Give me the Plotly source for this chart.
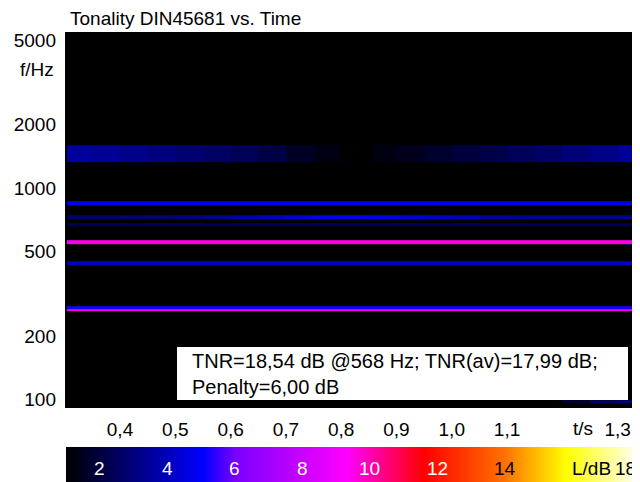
import plotly.graph_objects as go

# ---------------- data ----------------
# time column edges (s)
t_edges = [0.304, 0.35, 0.40, 0.45, 0.50, 0.55, 0.60, 0.65, 0.70, 0.75, 0.80,
           0.858, 0.90, 0.95, 1.00, 1.05, 1.10, 1.15, 1.20, 1.25, 1.30, 1.333]

# tonal components: lower / upper frequency of each stripe (Hz)
tone_lo_hz = [96.3, 261.2, 268.5, 430.9, 540.1, 657.0, 710.5, 825.7, 1325.0]
tone_hi_hz = [99.5, 268.5, 274.9, 450.1, 566.7, 683.4, 742.2, 866.3, 1594.0]

# level (dB) per time column for time-varying stripes
level_101 = [0, 0, 0, 0, 0, 0, 0, 0, 0, 0, 0, 0, 0, 0, 0, 0, 0, 0, 1.8, 2.6, 3.0]
level_745 = [2.7, 2.7, 2.75, 2.85, 3.0, 3.3, 3.7, 4.1, 4.5, 4.75, 4.8,
             4.7, 4.5, 4.2, 3.9, 3.6, 3.45, 3.35, 3.3, 3.3, 3.35]
level_band = [3.5, 3.35, 3.2, 3.0, 2.8, 2.6, 2.35, 2.1, 1.6, 1.3, 0.5,
              1.3, 1.45, 1.7, 1.95, 2.15, 2.4, 2.65, 2.9, 3.15, 3.4]
# constant levels for the other stripes
tone_levels = [level_101, 9.6, 5.2, 4.1, 9.5, 2.3, level_745, 4.7, level_band]

x_tick_vals = [0.4, 0.5, 0.6, 0.7, 0.8, 0.9, 1.0, 1.1, 1.3]
x_tick_text = ["0,4", "0,5", "0,6", "0,7", "0,8", "0,9", "1,0", "1,1", "1,3"]
y_tick_vals = [100, 200, 500, 1000, 2000, 5000]
y_tick_text = ["100", "200", "500", "1000", "2000", "5000"]

cb_range = [1, 18]
cb_tick_vals = [2, 4, 6, 8, 10, 12, 14]
cb_tick_text = ["2", "4", "6", "8", "10", "12", "14"]

info_text = "TNR=18,54 dB @568 Hz; TNR(av)=17,99 dB;<br>Penalty=6,00 dB"

# ---------------- build heatmap matrix ----------------
ncol = len(t_edges) - 1
f_bottom, f_top = 85.0, 6000.0
edges = [f_bottom]
z = []
for lo, hi, lev in zip(tone_lo_hz, tone_hi_hz, tone_levels):
    row = list(lev) if isinstance(lev, list) else [lev] * ncol
    if lo > edges[-1]:
        z.append([0] * ncol)
        edges.append(lo)
    z.append(row)
    edges.append(hi)
z.append([0] * ncol)
edges.append(f_top)

span = cb_range[1] - cb_range[0]
def frac(v):
    return (v - cb_range[0]) / span

colorscale = [
    [0.0, "rgb(0,0,0)"],
    [frac(5.05), "rgb(0,0,255)"],
    [frac(6.0), "rgb(120,0,255)"],
    [frac(9.3), "rgb(255,0,255)"],
    [frac(11.6), "rgb(255,0,0)"],
    [frac(14.0), "rgb(255,115,0)"],
    [frac(15.8), "rgb(255,255,0)"],
    [1.0, "rgb(255,255,255)"],
]

W, H = 640, 482
OFF = 8  # page body margin of the html page
FONT = "Liberation Sans, Arial, sans-serif"
FS = 19

def px(pix):
    return (pix - OFF) / W

def py(pix):
    return (H - (pix - OFF)) / H

fig = go.Figure()
fig.add_trace(go.Heatmap(
    x=t_edges, y=edges, z=z, colorscale=colorscale,
    zmin=cb_range[0], zmax=cb_range[1], zsmooth=False, showscale=False,
    xaxis="x", yaxis="y", hoverinfo="skip"))

fig.add_trace(go.Heatmap(
    x=cb_range, y=[0.5], z=[cb_range], colorscale=colorscale,
    zmin=cb_range[0], zmax=cb_range[1], zsmooth="best", showscale=False,
    xaxis="x2", yaxis="y2", hoverinfo="skip"))

annotations = []
for v, t in zip(cb_tick_vals, cb_tick_text):
    annotations.append(dict(x=v, y=0.5, xref="x2", yref="y2", text=t, showarrow=False,
                            font=dict(family=FONT, size=FS, color="white" if v < 13 else "black"),
                            xanchor="center", yanchor="middle"))
annotations.append(dict(x=16.55, y=0.5, xref="x2", yref="y2", text="L/dB", showarrow=False,
                        font=dict(family=FONT, size=FS, color="black"),
                        xanchor="center", yanchor="middle"))
annotations.append(dict(x=18, y=0.5, xref="x2", yref="y2", text="18", showarrow=False,
                        font=dict(family=FONT, size=FS, color="black"),
                        xanchor="right", yanchor="middle", xshift=-2))
annotations.append(dict(x=1.2374, y=py(428), xref="x", yref="paper", text="t/s", showarrow=False,
                        font=dict(family=FONT, size=FS, color="black"),
                        xanchor="center", yanchor="middle"))
annotations.append(dict(x=px(56), y=py(70), xref="paper", yref="paper", text="f/Hz", showarrow=False,
                        font=dict(family=FONT, size=FS, color="black"),
                        xanchor="right", yanchor="middle"))
annotations.append(dict(x=px(190), y=py(373.5), xref="paper", yref="paper", text=info_text,
                        showarrow=False, align="left",
                        font=dict(family=FONT, size=20, color="black"),
                        xanchor="left", yanchor="middle"))

fig.update_layout(
    width=W, height=H,
    margin=dict(l=0, r=0, t=0, b=0, autoexpand=False),
    paper_bgcolor="white", plot_bgcolor="black",
    font=dict(family=FONT, size=FS, color="black"),
    title=dict(text="Tonality DIN45681 vs. Time", x=px(70), xanchor="left",
               y=py(18), yanchor="middle", font=dict(family=FONT, size=FS, color="black")),
    xaxis=dict(domain=[px(65), px(640)], range=[0.3005, 1.3405], tickvals=x_tick_vals,
               ticktext=x_tick_text, showgrid=False, zeroline=False, showline=False,
               ticks="", ticklabelstandoff=8, anchor="y", fixedrange=True),
    yaxis=dict(domain=[py(408), py(32)], type="log", range=[1.9602, 3.7363],
               tickvals=y_tick_vals, ticktext=y_tick_text, showgrid=False, zeroline=False,
               showline=False, ticks="", ticklabelstandoff=8, anchor="x", fixedrange=True),
    xaxis2=dict(domain=[px(66), px(640)], range=cb_range, visible=False, anchor="y2"),
    yaxis2=dict(domain=[0, py(447)], range=[0, 1], visible=False, anchor="x2"),
    shapes=[dict(type="rect", xref="paper", yref="paper", x0=px(177), x1=px(628),
                 y0=py(400), y1=py(347), fillcolor="white", line=dict(width=0), layer="above")],
    annotations=annotations,
    showlegend=False,
)

fig.write_html("out.html")
